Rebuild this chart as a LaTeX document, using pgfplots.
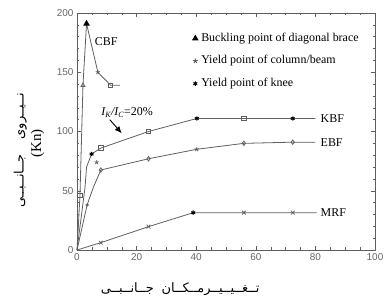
\documentclass[border=0pt]{standalone}
\usepackage{pgfplots}
\pgfplotsset{compat=1.18}
\usetikzlibrary{arrows.meta}
\usepackage{fontspec}
\setmainfont{Liberation Serif}
\newfontfamily\sansf{Liberation Sans}
\newfontfamily\arabicfont[Script=Arabic]{DejaVu Sans}
\TeXXeTstate=1
\definecolor{ln}{RGB}{95,95,95}
\pgfplotsset{every axis legend/.style={at={(0.968,0.945)}, anchor=north east, draw=none, fill=none,
    font=\fontsize{12}{14}\selectfont, row sep=5bp, cells={anchor=west}}}
\begin{document}
\begin{tikzpicture}
\begin{axis}[name=ax, scale only axis, width=298bp, height=237bp, clip=false,
  xmin=0, xmax=100, ymin=0, ymax=200,
  xtick={0,20,...,100}, ytick={0,50,...,200},
  minor x tick num=3, minor y tick num=4,
  xtick pos=both, ytick pos=both, tick align=inside,
  major tick length=4bp, minor tick length=2.5bp,
  every tick/.style={ln},
  axis line style={ln, line width=0.9pt},
  /pgf/number format/assume math mode=true,
  tick label style={font=\sansf\fontsize{10}{12}\selectfont, text=black!60},
  ylabel={\arabicfont\fontsize{13}{15}\selectfont\beginR نــیــروی\hspace{1.2em}جــانــبــی\endR\hspace*{14bp}\\[3bp]\fontsize{15}{17}\selectfont(Kn)},
  ylabel style={align=center, at={(axis description cs:-0.161,0.45)}, anchor=center},
  every axis plot/.append style={ln, line width=0.8pt, mark size=2.2bp},
]
\addlegendimage{only marks, mark=triangle*, black, mark size=3bp}
\addlegendentry{Buckling point of diagonal brace}
\addlegendimage{only marks, mark=star, black!70, mark size=2.5bp}
\addlegendentry{Yield point of column/beam}
\addlegendimage{only marks, mark=asterisk, black, mark size=2.2bp, line width=1pt}
\addlegendentry{Yield point of knee}
% CBF
\addplot[forget plot, no marks] coordinates {(0,0) (1,46) (2,139) (3.2,191) (7,150) (11.3,139) (14.4,139)};
\addplot[forget plot, only marks, mark=square] coordinates {(1,46) (11.3,139)};
\addplot[forget plot, only marks, mark=triangle] coordinates {(2,139)};
\addplot[forget plot, only marks, mark=triangle*, black, mark size=3bp] coordinates {(3.2,191)};
\addplot[forget plot, only marks, mark=star] coordinates {(7,150)};
% KBF
\addplot[forget plot, no marks] coordinates {(0,0) (2.7,53) (3.2,70) (4.9,81) (8,86) (24,100) (40.2,111) (56,111) (72.4,111) (80,111)};
\addplot[forget plot, only marks, mark=square] coordinates {(8,86) (24,100) (56,111)};
\addplot[forget plot, only marks, mark=asterisk, black, line width=1pt] coordinates {(4.9,81) (40.2,111) (72.4,111)};
% EBF
\addplot[forget plot, no marks] coordinates {(0,0) (3.4,38) (5.5,53) (8,67.5) (24,77) (40.2,85) (56,90) (72.4,91) (80,91)};
\addplot[forget plot, only marks, mark=diamond] coordinates {(8,67.5) (24,77) (56,90) (72.4,91)};
\addplot[forget plot, only marks, mark=star] coordinates {(6.6,74) (40.2,85)};
\addplot[forget plot, only marks, mark=*, mark size=1.2bp] coordinates {(3.4,38)};
% MRF
\addplot[forget plot, no marks] coordinates {(0,0) (8,6.2) (24,19.7) (39,31.5) (56,31.5) (72.4,31.5) (80.4,31.5)};
\addplot[forget plot, only marks, mark=x, mark size=2.6bp] coordinates {(8,6.2) (24,19.7) (56,31.5) (72.4,31.5)};
\addplot[forget plot, only marks, mark=asterisk, black, line width=1pt] coordinates {(39,31.5)};
% labels
\node[anchor=west, font=\fontsize{12}{14}\selectfont] at (axis cs:80.6,111) {KBF};
\node[anchor=west, font=\fontsize{12}{14}\selectfont] at (axis cs:80.6,91) {EBF};
\node[anchor=west, font=\fontsize{12}{14}\selectfont] at (axis cs:80.6,31.5) {MRF};
\node[anchor=west, font=\fontsize{12}{14}\selectfont] at (axis cs:4.8,176) {CBF};
\node[font=\fontsize{12}{14}\selectfont] at (axis cs:16.8,116) {\itshape I\textsubscript{K}/I\textsubscript{C}\upshape=20\%};
\draw[-{Latex[length=7bp,width=6bp]}, line width=0.9pt, black] (axis cs:11,110) -- (axis cs:15,98.5);
\node[anchor=center, font=\arabicfont\fontsize{13}{15}\selectfont] at (axis description cs:0.346,-0.165) {\beginR تــغــیــیــرمــکــان\hspace{0.6em}جــانــبــی\endR};
\end{axis}
\pgfresetboundingbox
\path[use as bounding box] ([shift={(-77bp,-47bp)}]ax.south west) rectangle ([shift={(10bp,13bp)}]ax.north east);
\end{tikzpicture}
\end{document}
